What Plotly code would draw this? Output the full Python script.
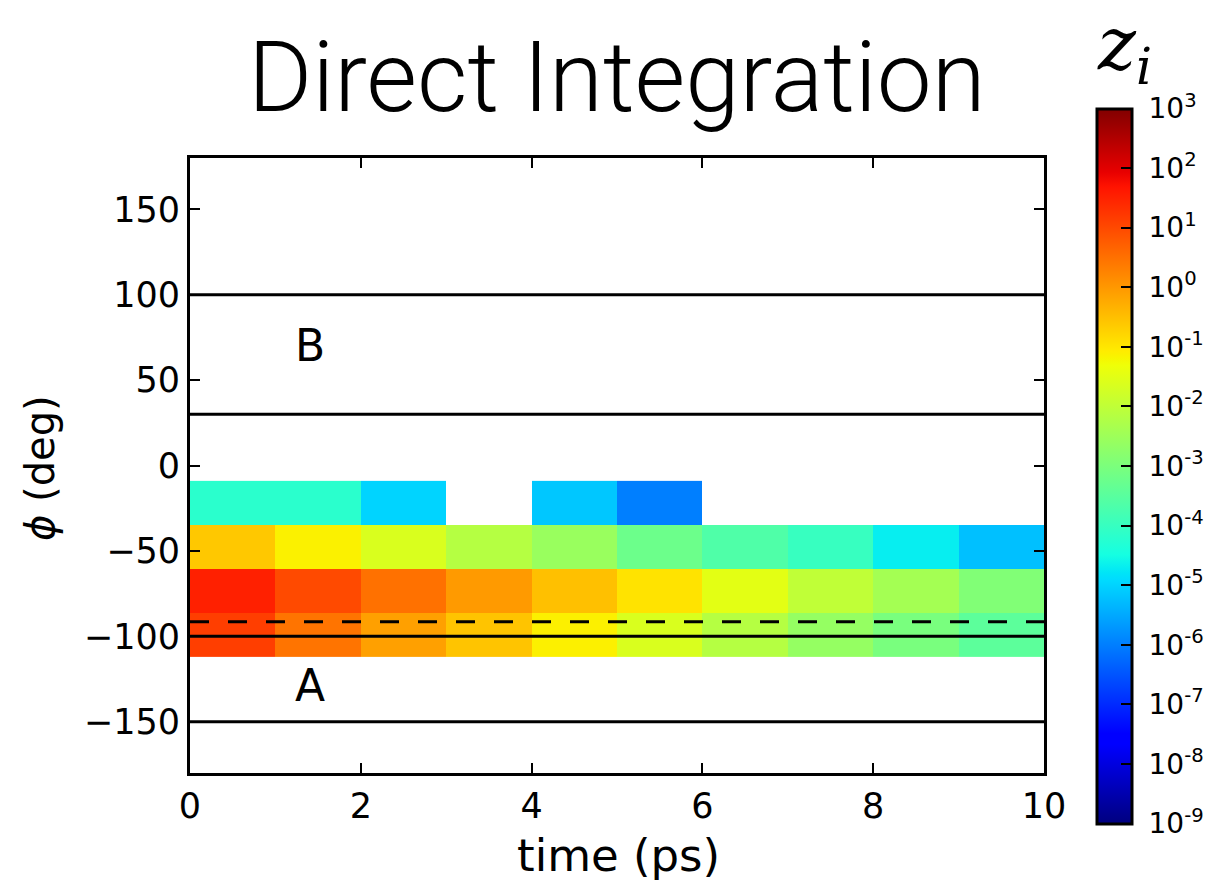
import numpy as np
import plotly.graph_objects as go

# ---- data ----
time_centers = [0.5, 1.5, 2.5, 3.5, 4.5, 5.5, 6.5, 7.5, 8.5, 9.5]
phi_edges = [-112, -86.25, -60.5, -34.75, -9]
# log10(z_i) per row (bottom row first); None = empty
row_m112 = [1.13, 0.44, -0.11, -0.57, -1.13, -1.64, -2.17, -2.64, -3.04, -3.46]
row_m86 = [1.51, 0.98, 0.49, -0.04, -0.52, -0.97, -1.50, -2.00, -2.41, -2.93]
row_m60 = [-0.62, -1.14, -1.64, -2.17, -2.58, -3.23, -3.66, -4.00, -4.70, -5.24]
row_m35 = [-4.19, -4.19, -5.00, None, -5.15, -6.00, None, None, None, None]
solid_lines = [100, 30, -100, -150]
dashed_lines = [-91.5]
region_labels = ["B", "A"]
region_x = [1.4, 1.4]
region_y = [70, -129]
x_ticks = [0, 2, 4, 6, 8, 10]
y_ticks = [-150, -100, -50, 0, 50, 100, 150]
cb_ticks = list(range(-9, 4))


def jet(f):
    def interp(pts, v):
        xs = [p[0] for p in pts]
        ys = [p[1] for p in pts]
        return float(np.interp(v, xs, ys))
    r = interp([(0, 0), (0.35, 0), (0.66, 1), (0.89, 1), (1, 0.5)], f)
    g = interp([(0, 0), (0.125, 0), (0.375, 1), (0.64, 1), (0.91, 0), (1, 0)], f)
    b = interp([(0, 0.5), (0.11, 1), (0.34, 1), (0.65, 0), (1, 0)], f)
    return f"rgb({int(round(r*255))},{int(round(g*255))},{int(round(b*255))})"


stops = [0, 0.11, 0.125, 0.34, 0.35, 0.375, 0.64, 0.65, 0.66, 0.89, 0.91, 1]
colorscale = [[s, jet(s)] for s in stops]

z = [row_m112, row_m86, row_m60, row_m35]
z = [[np.nan if v is None else v for v in row] for row in z]

L, R, T, B = 190, 1044, 158, 773
W, H = R - L, B - T


def px_x(p):
    return (p - L) / W


def px_y(p):
    return (B - p) / H


fig = go.Figure()
fig.add_trace(go.Heatmap(
    x=time_centers, y=phi_edges, z=z,
    zmin=-9, zmax=3, colorscale=colorscale,
    hoverongaps=False,
    colorbar=dict(
        x=px_x(1097), xanchor="left", xpad=0, y=px_y(466), yanchor="middle", ypad=0,
        lenmode="pixels", len=715, thickness=35,
        outlinewidth=3, outlinecolor="black",
        tickvals=cb_ticks,
        ticktext=[f"&nbsp;10<sup>{t}</sup>" for t in cb_ticks],
        ticks="inside", ticklen=12, tickwidth=1.5, tickcolor="black",
        tickfont=dict(family="DejaVu Sans", size=28, color="black"),
    ),
))

for yv in solid_lines:
    fig.add_shape(type="line", x0=0, x1=10, y0=yv, y1=yv, xref="x", yref="y",
                  line=dict(color="black", width=3), layer="above")
for yv in dashed_lines:
    fig.add_shape(type="line", x0=0, x1=10, y0=yv, y1=yv, xref="x", yref="y",
                  line=dict(color="black", width=3, dash="19px,19px"), layer="above")

for t, xv, yv in zip(region_labels, region_x, region_y):
    fig.add_annotation(x=xv, y=yv, text=t, showarrow=False, xref="x", yref="y",
                       font=dict(family="DejaVu Sans", size=44, color="black"))

# titles
fig.add_annotation(
    text="Direct Integration", showarrow=False, xref="paper", yref="paper",
    x=px_x(617), y=px_y(78), xanchor="center", yanchor="middle",
    font=dict(family="Roboto", size=98, color="black", weight=300))
fig.add_annotation(
    text="<i>z<sub>i</sub></i>", showarrow=False, xref="paper", yref="paper",
    x=px_x(1124), y=px_y(1), xanchor="center", yanchor="top", borderpad=0,
    font=dict(family="DejaVu Serif", size=72, color="black", style="italic"))
fig.add_annotation(
    text="time (ps)", showarrow=False, xref="paper", yref="paper",
    x=px_x(618), y=px_y(855), xanchor="center", yanchor="middle",
    font=dict(family="DejaVu Sans", size=45, color="black"))
fig.add_annotation(
    text="<i>ϕ</i> (deg)", showarrow=False, xref="paper", yref="paper", textangle=-90,
    x=px_x(40), y=px_y(468), xanchor="center", yanchor="middle",
    font=dict(family="DejaVu Sans", size=40, color="black"))

axis_common = dict(
    showline=True, linewidth=3, linecolor="black", mirror="ticks",
    ticks="inside", ticklen=10, tickwidth=1.5, tickcolor="black",
    showgrid=False, zeroline=False,
    tickfont=dict(family="DejaVu Sans", size=35, color="black"),
)
fig.update_xaxes(range=[0, 10], tickvals=x_ticks, **axis_common)
fig.update_yaxes(range=[-180, 180], tickvals=y_ticks, **axis_common)

fig.update_layout(
    width=1212, height=883,
    margin=dict(l=L, r=1212 - R, t=T, b=883 - B, autoexpand=False),
    plot_bgcolor="white", paper_bgcolor="white",
    showlegend=False,
)

fig.write_html("out.html")
